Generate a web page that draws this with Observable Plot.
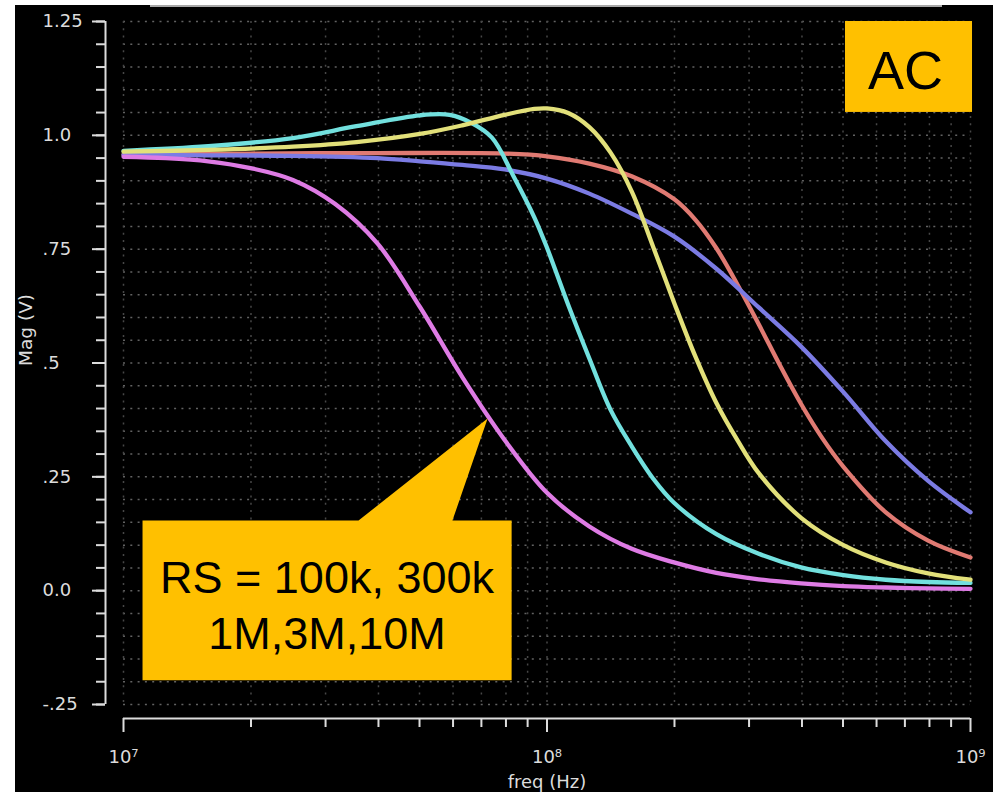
<!DOCTYPE html>
<html>
<head>
<meta charset="utf-8">
<script src="https://cdn.jsdelivr.net/npm/d3@7"></script>
<script src="https://cdn.jsdelivr.net/npm/@observablehq/plot@0.6"></script>
<style>
html, body { margin: 0; padding: 0; background: #fff; }
#wrap { position: relative; width: 993px; height: 792px; overflow: hidden; }
#wrap svg { position: absolute; left: 0; top: 0; background: #000; }
.strip { position: absolute; }
</style>
</head>
<body>
<div id="wrap"></div>
<script>
// ---- Data ----
// RS = 10M (magenta)
const magentaFreq = [1e7, 1.259e7, 1.585e7, 1.995e7, 2.512e7, 3.162e7, 3.981e7, 5.012e7, 6.31e7, 7.943e7, 1e8, 1.259e8, 1.585e8, 1.995e8, 2.512e8, 3.162e8, 3.981e8, 5.012e8, 6.31e8, 7.943e8, 1e9];
const magentaMag  = [0.953, 0.950, 0.943, 0.928, 0.902, 0.849, 0.762, 0.623, 0.469, 0.331, 0.215, 0.141, 0.092, 0.062, 0.039, 0.025, 0.016, 0.010, 0.007, 0.005, 0.004];
// RS = 3M (cyan)
const cyanFreq = [1e7, 1.585e7, 2.512e7, 3.548e7, 5.012e7, 5.888e7, 6.607e7, 7.413e7, 8.318e7, 9.333e7, 1e8, 1.122e8, 1.259e8, 1.413e8, 1.585e8, 1.778e8, 1.995e8, 2.512e8, 3.162e8, 3.981e8, 5.012e8, 6.31e8, 7.943e8, 1e9];
const cyanMag  = [0.966, 0.976, 0.994, 1.020, 1.044, 1.045, 1.028, 0.995, 0.912, 0.820, 0.753, 0.628, 0.510, 0.397, 0.317, 0.247, 0.193, 0.124, 0.081, 0.051, 0.034, 0.024, 0.019, 0.017];
// RS = 1M (yellow)
const yellowFreq = [1e7, 1.585e7, 2.512e7, 3.548e7, 5.012e7, 6.31e7, 7.943e7, 9.333e7, 1e8, 1.122e8, 1.259e8, 1.413e8, 1.585e8, 1.778e8, 1.995e8, 2.239e8, 2.512e8, 2.818e8, 3.162e8, 3.981e8, 5.012e8, 6.31e8, 7.943e8, 1e9];
const yellowMag  = [0.964, 0.968, 0.975, 0.985, 1.003, 1.022, 1.045, 1.058, 1.059, 1.049, 1.018, 0.962, 0.877, 0.757, 0.633, 0.515, 0.412, 0.330, 0.258, 0.160, 0.100, 0.062, 0.038, 0.024];
// RS = 300k (red)
const redFreq = [1e7, 1.995e7, 3.981e7, 7.943e7, 1e8, 1.259e8, 1.585e8, 1.995e8, 2.239e8, 2.512e8, 2.818e8, 3.162e8, 3.548e8, 3.981e8, 4.467e8, 5.012e8, 6.31e8, 7.943e8, 1e9];
const redMag  = [0.958, 0.960, 0.961, 0.960, 0.954, 0.938, 0.910, 0.860, 0.815, 0.752, 0.672, 0.585, 0.495, 0.410, 0.335, 0.272, 0.172, 0.110, 0.073];
// RS = 100k (blue)
const blueFreq = [1e7, 1.585e7, 2.512e7, 3.981e7, 5.012e7, 6.31e7, 7.943e7, 1e8, 1.259e8, 1.585e8, 1.995e8, 2.512e8, 3.162e8, 3.981e8, 5.012e8, 6.31e8, 7.943e8, 1e9];
const blueMag  = [0.957, 0.956, 0.955, 0.950, 0.943, 0.935, 0.925, 0.905, 0.872, 0.828, 0.778, 0.707, 0.622, 0.536, 0.436, 0.328, 0.241, 0.172];

const seriesNames  = ["300k", "100k", "10M", "3M", "1M"];
const seriesColors = ["#e07a72", "#7b7be3", "#de7be4", "#72e0de", "#e2e07a"];

// Axis ticks and labels
const yMajorTicks = [-0.25, 0, 0.25, 0.5, 0.75, 1.0, 1.25];
const yTickLabels = ["-.25", "0.0", ".25", ".5", ".75", "1.0", "1.25"];
const yMinorTicks = d3.range(-25, 126, 5).map(v => v / 100);
const xMajorTicks = [1e7, 1e8, 1e9];
const xTickLabels = ["10\u2077", "10\u2078", "10\u2079"];
const xMinorTicks = [1e7, 1e8].flatMap(p => [2, 3, 4, 5, 6, 7, 8, 9].map(m => m * p));
const xGridLines = [...xMajorTicks, ...xMinorTicks];

// Annotations (data space)
const calloutFreq = [1.109e7, 3.589e7, 7.24e7, 5.98e7, 8.25e7, 8.25e7, 1.109e7];
const calloutMag  = [0.154, 0.154, 0.378, 0.154, 0.154, -0.197, -0.197];
const calloutText = "RS = 100k, 300k\n1M,3M,10M";
const calloutTextAt = {freq: 3.024e7, mag: -0.027};
const acBox = {x1: 5.068e8, x2: 1.011e9, y1: 1.0503, y2: 1.25};
const acText = {freq: 7.02e8, mag: 1.139, label: "AC"};

// ---- Build ----
const seriesData = [
  [redFreq, redMag], [blueFreq, blueMag], [magentaFreq, magentaMag], [cyanFreq, cyanMag], [yellowFreq, yellowMag]
].map(([f, m], k) => f.map((freq, i) => ({rs: seriesNames[k], freq, mag: m[i]})));

const yLabelMap = new Map(yMajorTicks.map((t, i) => [t, yTickLabels[i]]));
const xLabelMap = new Map(xMajorTicks.map((t, i) => [t, xTickLabels[i]]));
const calloutShape = calloutFreq.map((f, i) => ({freq: f, mag: calloutMag[i]}));

const axisColor = "#dcdcdc";

const chart = Plot.plot({
  width: 993,
  height: 792,
  marginLeft: 123,
  marginRight: 23,
  marginTop: 21,
  marginBottom: 88,
  style: {background: "#000", color: axisColor, fontFamily: "DejaVu Sans", fontSize: "18px"},
  x: {type: "log", domain: [1e7, 1e9]},
  y: {domain: [-0.25, 1.25]},
  marks: [
    // dotted grid
    Plot.ruleY(yMinorTicks, {stroke: "#626262", strokeWidth: 1.5, strokeDasharray: "2,5.3"}),
    Plot.ruleX(xGridLines, {stroke: "#474747", strokeWidth: 1.5, strokeDasharray: "2,5.3"}),
    // axis lines
    Plot.ruleX([1e7], {dx: -18, stroke: axisColor, strokeWidth: 2}),
    Plot.ruleY([-0.25], {dy: 14, stroke: axisColor, strokeWidth: 2}),
    // y ticks (labels left-aligned like the reference)
    Plot.axisY(yMinorTicks, {anchor: "left", dx: -18, tickSize: 9, strokeWidth: 2, tickFormat: () => "", label: null}),
    Plot.axisY(yMajorTicks, {anchor: "left", dx: -18, tickSize: 13, tickPadding: 50, strokeWidth: 2,
      textAnchor: "start", tickFormat: d => yLabelMap.get(d), fontSize: 18, fontFamily: "DejaVu Sans", label: null}),
    // x ticks
    Plot.axisX(xMinorTicks, {anchor: "bottom", dy: 14, tickSize: 9, strokeWidth: 2, tickFormat: () => "", label: null}),
    Plot.axisX(xMajorTicks, {anchor: "bottom", dy: 14, tickSize: 14, tickPadding: 18, strokeWidth: 2,
      tickFormat: d => xLabelMap.get(d), fontSize: 18, fontFamily: "DejaVu Sans", label: null}),
    // axis titles
    Plot.text(["Mag (V)"], {frameAnchor: "left", dx: -97, dy: 3, rotate: -90, fontSize: 18.5, fill: axisColor}),
    Plot.text(["freq (Hz)"], {frameAnchor: "bottom", dy: 83, fontSize: 18, fill: axisColor}),
    // curves
    ...seriesData.map((rows, k) => Plot.line(rows, {
      x: "freq", y: "mag", stroke: seriesColors[k], strokeWidth: 4.3, curve: "catmull-rom"
    })),
    // callout
    Plot.line(calloutShape, {x: "freq", y: "mag", fill: "#ffc000", stroke: "none"}),
    Plot.text([calloutTextAt], {x: "freq", y: "mag", text: () => calloutText, fontSize: 45, lineHeight: 1.244,
      fontFamily: "Liberation Sans", fill: "#000"}),
    // AC label box
    Plot.rect([acBox], {x1: "x1", x2: "x2", y1: "y1", y2: "y2", fill: "#ffc000"}),
    Plot.text([acText], {x: "freq", y: "mag", text: "label", fontSize: 54, fontFamily: "Liberation Sans", fill: "#000"})
  ]
});

const wrap = document.getElementById("wrap");
wrap.appendChild(chart);
// screenshot framing (white edges and grey title bar remnant)
const strips = [
  {l: 0, t: 0, w: 15, h: 792, c: "#fff"},
  {l: 0, t: 0, w: 993, h: 5, c: "#fff"},
  {l: 150, t: 5, w: 792, h: 2, c: "#a8a8a8"}
];
for (const s of strips) {
  const d = document.createElement("div");
  d.className = "strip";
  Object.assign(d.style, {left: s.l + "px", top: s.t + "px", width: s.w + "px", height: s.h + "px", background: s.c});
  wrap.appendChild(d);
}
</script>
</body>
</html>
